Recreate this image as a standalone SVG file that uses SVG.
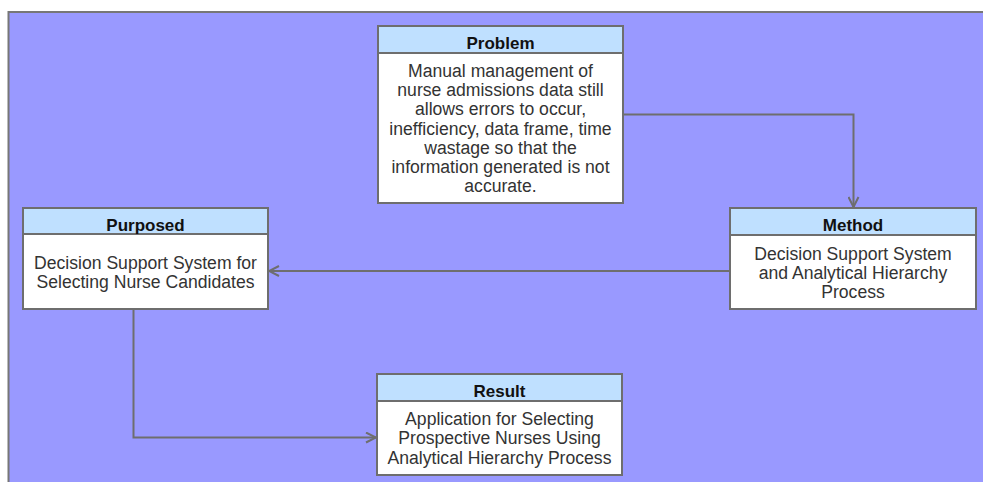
<svg xmlns="http://www.w3.org/2000/svg" width="983" height="482" viewBox="0 0 983 482">
<defs>
<style>
.box{fill:#ffffff;stroke:#6e6e6e;stroke-width:2}
.hdr{fill:#bfe0ff;stroke:#6e6e6e;stroke-width:2}
.t{font-family:"Liberation Sans",Arial,sans-serif;font-size:17.6px;fill:#333;text-anchor:middle}
.h{font-family:"Liberation Sans",Arial,sans-serif;font-size:17px;font-weight:bold;fill:#111;text-anchor:middle}
.c{fill:none;stroke:#6e6e6e;stroke-width:2}
</style>
<marker id="arr" viewBox="0 0 12 12" refX="11" refY="6" markerWidth="12" markerHeight="12" markerUnits="userSpaceOnUse" orient="auto">
<path d="M1,1 L11,6 L1,11" fill="none" stroke="#6e6e6e" stroke-width="2"/>
</marker>
</defs>
<rect x="0" y="0" width="983" height="482" fill="#ffffff"/>
<rect x="8.5" y="12" width="990" height="490" fill="#9999ff" stroke="#777" stroke-width="2"/>
<g id="connectors">
<path class="c" d="M624,114.5 H853.5 V207" marker-end="url(#arr)"/>
<path class="c" d="M729,271 H269" marker-end="url(#arr)"/>
<path class="c" d="M133.5,309 V437.5 H376" marker-end="url(#arr)"/>
</g>
<g id="problem">
<rect class="box" x="378" y="26" width="245" height="177"/>
<rect class="hdr" x="378" y="26" width="245" height="27"/>
<text class="h" x="500.5" y="48.5">Problem</text>
<text class="t" x="500.5" y="76.5">Manual management of</text>
<text class="t" x="500.5" y="95.5">nurse admissions data still</text>
<text class="t" x="500.5" y="115">allows errors to occur,</text>
<text class="t" x="500.5" y="134.5">inefficiency, data frame, time</text>
<text class="t" x="500.5" y="153.5">wastage so that the</text>
<text class="t" x="500.5" y="172.5">information generated is not</text>
<text class="t" x="500.5" y="191.5">accurate.</text>
</g>
<g id="method">
<rect class="box" x="730" y="208" width="246" height="101"/>
<rect class="hdr" x="730" y="208" width="246" height="27"/>
<text class="h" x="853" y="230.5">Method</text>
<text class="t" x="853" y="259.5">Decision Support System</text>
<text class="t" x="853" y="278.5">and Analytical Hierarchy</text>
<text class="t" x="853" y="297.5">Process</text>
</g>
<g id="purposed">
<rect class="box" x="23" y="208" width="245" height="101"/>
<rect class="hdr" x="23" y="208" width="245" height="26"/>
<text class="h" x="145.5" y="230.5">Purposed</text>
<text class="t" x="145.5" y="268.5">Decision Support System for</text>
<text class="t" x="145.5" y="288">Selecting Nurse Candidates</text>
</g>
<g id="result">
<rect class="box" x="377" y="374" width="245" height="101"/>
<rect class="hdr" x="377" y="374" width="245" height="27"/>
<text class="h" x="499.5" y="396.5">Result</text>
<text class="t" x="499.5" y="424.5">Application for Selecting</text>
<text class="t" x="499.5" y="444">Prospective Nurses Using</text>
<text class="t" x="499.5" y="463.5">Analytical Hierarchy Process</text>
</g>
</svg>
